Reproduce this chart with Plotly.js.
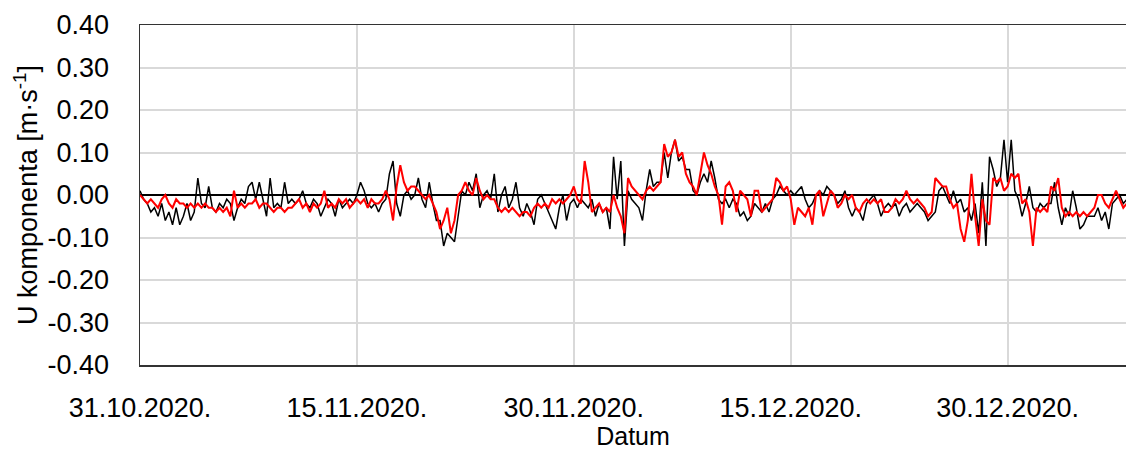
<!DOCTYPE html>
<html>
<head>
<meta charset="utf-8">
<script src="https://cdn.plot.ly/plotly-3.0.1.min.js"></script>
<style>html,body{margin:0;padding:0;background:#fff;}#chart{width:1126px;height:450px;}</style>
</head>
<body>
<div id="chart"></div>
<script>
// Series start and sampling step (6-hourly samples)
const startDate = "2020-10-31 00:00";
const stepHours = 6;

// U component, black series [m/s]
const blackU = [
 0.01,-0.01,-0.02,-0.04, -0.03,-0.05,-0.02,-0.06, -0.04,-0.07,-0.03,-0.07, -0.05,-0.02,-0.06,-0.04,
 0.04,-0.02,-0.03,0.02, -0.03,-0.04,-0.02,-0.03, -0.01,-0.02,-0.06,-0.03, -0.01,-0.02,0.02,0.03,
 -0.01,0.03,-0.01,-0.05, 0.04,-0.03,-0.02,-0.03, 0.03,-0.02,-0.01,-0.02, -0.01,0.01,-0.02,-0.03,
 -0.01,-0.02,-0.05,-0.03, -0.01,-0.02,-0.05,-0.01, -0.03,-0.02,-0.01,-0.02, 0.00,0.03,0.01,-0.02,
 -0.03,-0.02,-0.04,-0.02, -0.01,0.05,0.08,-0.02, -0.05,0.00,0.01,-0.01, 0.00,0.04,-0.01,-0.03,
 0.03,-0.02,-0.06,-0.06, -0.12,-0.09,-0.10,-0.11, -0.05,0.01,0.00,0.03, 0.01,0.05,-0.03,0.00,
 0.01,-0.01,0.05,-0.04, 0.00,0.02,-0.03,-0.01, 0.03,-0.03,-0.05,-0.02, -0.04,-0.07,-0.01,0.00,
 -0.02,-0.04,-0.06,-0.08, -0.03,0.00,-0.06,-0.02, -0.01,-0.03,-0.01,-0.02, -0.03,-0.01,-0.05,-0.02,
 -0.04,-0.03,-0.08,0.09, -0.01,0.08,-0.12,0.01, -0.01,-0.02,-0.03,-0.06, 0.01,0.06,0.02,0.03,
 0.03,0.10,0.04,0.10, 0.13,0.08,0.09,0.06, 0.06,0.01,0.00,0.03, 0.05,0.03,0.08,0.04,
 -0.01,-0.02,-0.01,-0.03, -0.01,-0.02,-0.05,-0.04, -0.06,-0.05,-0.02,-0.03, -0.04,-0.02,-0.04,-0.01,
 0.00,0.02,0.01,0.00, 0.01,0.00,0.01,0.02, -0.01,-0.03,-0.02,0.00, 0.01,0.00,0.02,0.01,
 0.00,-0.02,-0.01,0.01, -0.03,-0.05,-0.03,-0.04, -0.06,-0.02,-0.01,0.00, -0.02,-0.05,-0.03,-0.02,
 -0.03,-0.02,-0.05,-0.03, -0.02,-0.04,-0.03,-0.02, -0.03,-0.04,-0.06,-0.05, -0.04,0.01,0.02,0.00,
 -0.02,0.01,-0.02,-0.01, -0.04,-0.03,-0.06,-0.02, -0.09,0.03,-0.12,0.09, 0.06,0.02,0.04,0.13,
 0.03,0.13,0.01,-0.01, -0.05,-0.02,0.02,-0.03, -0.04,-0.02,-0.03,-0.02, -0.02,0.03,-0.03,-0.07,
 -0.03,-0.05,0.01,-0.03, -0.08,-0.07,-0.05,-0.05, -0.05,-0.03,-0.06,-0.04, -0.08,-0.02,-0.01,0.00,
 -0.02,-0.01
];

// U component, red series [m/s]
const redU = [
 0.00,-0.01,-0.02,-0.01, -0.02,-0.03,-0.01,0.00, -0.02,-0.03,-0.01,-0.02, -0.02,-0.03,-0.02,-0.03,
 -0.02,-0.03,-0.02,-0.03, -0.03,-0.04,-0.03,-0.04, -0.03,-0.05,0.01,-0.03, -0.02,-0.03,-0.02,-0.02,
 -0.01,-0.03,-0.02,-0.02, -0.03,-0.04,-0.03,-0.03, -0.04,-0.03,-0.03,-0.02, -0.01,-0.03,-0.02,-0.04,
 -0.02,-0.03,-0.02,0.01, -0.03,-0.02,-0.03,-0.01, -0.02,-0.01,-0.03,-0.02, -0.01,-0.02,-0.01,-0.03,
 -0.01,-0.02,-0.02,-0.01, 0.01,-0.01,-0.06,0.02, 0.07,0.03,0.01,0.02, 0.02,0.01,0.00,-0.01,
 0.00,-0.02,-0.04,-0.08, -0.06,-0.03,-0.09,-0.06, 0.00,0.01,0.03,0.01, 0.00,0.04,0.01,-0.01,
 0.00,-0.01,-0.01,-0.03, -0.04,-0.03,-0.04,-0.03, -0.04,-0.05,-0.04,-0.04, -0.05,-0.03,-0.02,-0.03,
 -0.02,-0.03,-0.01,-0.02, -0.01,-0.02,-0.01,0.00, 0.02,-0.01,-0.02,0.08, 0.03,-0.04,-0.03,-0.02,
 -0.04,-0.03,-0.04,0.00, -0.03,-0.05,-0.09,0.04, 0.02,0.01,0.00,-0.01, 0.01,0.02,0.01,0.02,
 0.03,0.12,0.09,0.10, 0.13,0.09,0.10,0.05, 0.03,0.02,0.00,0.05, 0.10,0.07,0.05,0.02,
 0.00,-0.07,0.02,0.03, 0.01,-0.04,0.01,0.00, -0.01,-0.05,0.01,0.01, -0.04,-0.03,-0.02,-0.01,
 0.04,0.03,0.01,0.02, -0.01,-0.07,-0.03,-0.04, -0.05,-0.03,-0.07,0.00, 0.01,-0.05,-0.02,0.01,
 0.00,-0.03,-0.02,0.00, -0.01,0.00,-0.03,-0.04, -0.02,-0.01,-0.02,-0.01, -0.02,-0.01,-0.04,-0.04,
 -0.03,-0.01,-0.02,-0.01, 0.01,-0.01,-0.02,-0.01, -0.02,-0.03,-0.05,-0.04, 0.04,0.03,0.02,0.02,
 -0.01,-0.03,-0.02,-0.08, -0.11,-0.06,0.05,-0.05, -0.12,-0.01,-0.06,-0.07, 0.04,0.03,0.04,0.01,
 0.02,0.05,0.04,0.05, -0.02,-0.01,-0.04,-0.12, -0.03,-0.04,-0.03,-0.04, 0.02,0.01,0.04,-0.03,
 -0.05,-0.04,-0.05,-0.04, -0.05,-0.04,-0.05,-0.04, -0.03,0.00,0.00,-0.02, -0.03,-0.01,0.01,-0.01,
 -0.03,-0.02
];

// Axis ticks
const xTickVals = ["2020-10-31", "2020-11-15", "2020-11-30", "2020-12-15", "2020-12-30"];
const xTickText = ["31.10.2020.", "15.11.2020.", "30.11.2020.", "15.12.2020.", "30.12.2020."];
const xRange = ["2020-10-31 00:00", "2021-01-07 04:30"];
const yTickVals = [-0.4, -0.3, -0.2, -0.1, 0, 0.1, 0.2, 0.3, 0.4];
const yTickText = ["-0.40", "-0.30", "-0.20", "-0.10", "0.00", "0.10", "0.20", "0.30", "0.40"];

function timeAxis(n) {
  const t0 = Date.parse(startDate.replace(" ", "T") + ":00Z");
  const out = [];
  for (let i = 0; i < n; i++) {
    const d = new Date(t0 + i * stepHours * 3600 * 1000);
    out.push(d.toISOString().slice(0, 16).replace("T", " "));
  }
  return out;
}

const FONT = '"Liberation Sans", Arial, sans-serif';

const traces = [
  { x: timeAxis(blackU.length), y: blackU, type: "scatter", mode: "lines",
    line: { color: "#000000", width: 1.5 }, hoverinfo: "skip", showlegend: false },
  { x: timeAxis(redU.length), y: redU, type: "scatter", mode: "lines",
    line: { color: "#ff0000", width: 2 }, hoverinfo: "skip", showlegend: false }
];

const layout = {
  width: 1126, height: 450,
  margin: { l: 140, r: 0, t: 25, b: 85 },
  paper_bgcolor: "#ffffff", plot_bgcolor: "#ffffff",
  font: { family: FONT, color: "#000000", size: 27 },
  showlegend: false,
  xaxis: {
    type: "date", range: xRange,
    tickmode: "array", tickvals: xTickVals, ticktext: xTickText,
    showgrid: true, gridcolor: "#d9d9d9", gridwidth: 2,
    showline: true, linecolor: "#333333", linewidth: 1.5, mirror: true,
    ticks: "", ticklabelstandoff: 18,
    tickfont: { family: FONT, size: 27, color: "#000" },
    zeroline: false,
    title: { text: "Datum", font: { family: FONT, size: 25, color: "#000" }, standoff: 0 }
  },
  yaxis: {
    range: [-0.4, 0.4], tickmode: "array", tickvals: yTickVals, ticktext: yTickText,
    showgrid: true, gridcolor: "#d9d9d9", gridwidth: 2,
    showline: true, linecolor: "#333333", linewidth: 1.5, mirror: false,
    ticks: "", ticklabelstandoff: 24,
    tickfont: { family: FONT, size: 27, color: "#000" },
    zeroline: true, zerolinecolor: "#000000", zerolinewidth: 1.5,
    title: { text: "U komponenta [m·s<sup>-1</sup>]", font: { family: FONT, size: 27, color: "#000" }, standoff: 2 }
  }
};

Plotly.newPlot("chart", traces, layout, { staticPlot: true, displayModeBar: false });
</script>
</body>
</html>
